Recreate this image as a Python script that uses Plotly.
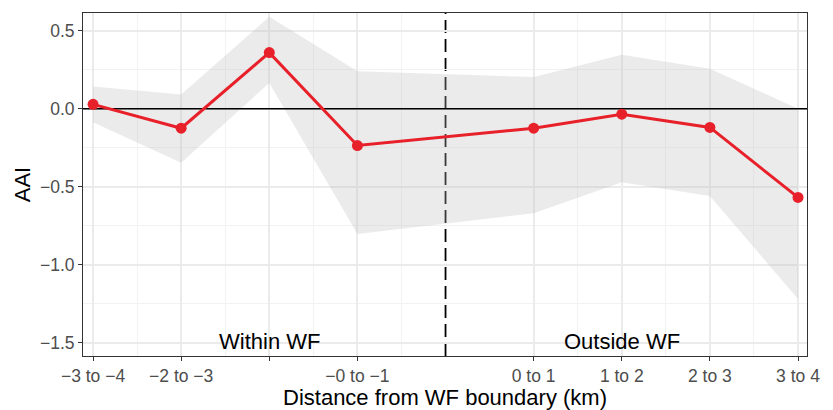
import plotly.graph_objects as go

# Data
x_pos = [-4, -3, -2, -1, 1, 2, 3, 4]
aai = [0.028, -0.125, 0.36, -0.236, -0.125, -0.035, -0.12, -0.569]
upper = [0.143, 0.092, 0.59, 0.24, 0.203, 0.347, 0.257, 0.0]
lower = [-0.086, -0.347, 0.165, -0.804, -0.67, -0.472, -0.56, -1.22]
tick_vals = [-4, -3, -2, -1, 1, 2, 3, 4]
tick_text = ["−3 to −4", "−2 to −3", "", "−0 to −1", "0 to 1", "1 to 2", "2 to 3", "3 to 4"]
minor_vals = [-3.5, -2.5, -1.5, -0.5, 1.5, 2.5, 3.5]
y_vals = [0.5, 0.0, -0.5, -1.0, -1.5]
y_text = ["0.5", "0.0", "−0.5", "−1.0", "−1.5"]
y_minor = [0.25, -0.25, -0.75, -1.25]
x_range = [-4.114, 4.102]
y_range = [-1.586, 0.614]

FONT = "Liberation Sans, Arial, sans-serif"

fig = go.Figure()
fig.add_trace(go.Scatter(x=x_pos, y=upper, mode="lines", line=dict(width=0),
                         hoverinfo="skip", showlegend=False))
fig.add_trace(go.Scatter(x=x_pos, y=lower, mode="lines", line=dict(width=0),
                         fill="tonexty", fillcolor="rgba(190,190,190,0.3)",
                         hoverinfo="skip", showlegend=False))
# reference line at AAI = 0 (drawn above ribbon, below series)
fig.add_trace(go.Scatter(x=x_range, y=[0, 0], mode="lines",
                         line=dict(color="black", width=1.6),
                         hoverinfo="skip", showlegend=False))
fig.add_shape(type="line", xref="x", yref="paper", x0=0, x1=0, y0=0, y1=1,
              line=dict(color="black", width=1.8, dash="13px,6px"), layer="between")
fig.add_trace(go.Scatter(x=x_pos, y=aai, mode="lines+markers",
                         line=dict(color="#E8202A", width=3),
                         marker=dict(color="#E8202A", size=11),
                         showlegend=False))

fig.add_annotation(x=-2, y=-1.5, text="Within WF", showarrow=False,
                   font=dict(family=FONT, size=22, color="black"), yanchor="middle", yshift=1)
fig.add_annotation(x=2, y=-1.5, text="Outside WF", showarrow=False,
                   font=dict(family=FONT, size=22, color="black"), yanchor="middle", yshift=1)

fig.update_layout(
    width=833, height=410,
    margin=dict(l=83, r=26, t=13, b=54),
    plot_bgcolor="white", paper_bgcolor="white",
    font=dict(family=FONT),
    xaxis=dict(
        range=x_range, tickmode="array", tickvals=tick_vals, ticktext=tick_text,
        tickfont=dict(size=17.5, color="#4D4D4D"), automargin=False,
        ticks="outside", ticklen=4, tickcolor="#333333", tickwidth=1,
        showgrid=True, gridcolor="#EBEBEB", gridwidth=2,
        minor=dict(tickmode="array", tickvals=minor_vals, showgrid=True,
                   gridcolor="#F2F2F2", gridwidth=1, ticks=""),
        showline=True, mirror=True, linecolor="#333333", linewidth=1,
        zeroline=False,
        title=dict(text="Distance from WF boundary (km)", font=dict(size=22, color="black"), standoff=9),
    ),
    yaxis=dict(
        range=y_range, tickmode="array", tickvals=y_vals, ticktext=y_text,
        tickfont=dict(size=17.5, color="#4D4D4D"), automargin=False,
        ticks="outside", ticklen=4, tickcolor="#333333", tickwidth=1,
        showgrid=True, gridcolor="#EBEBEB", gridwidth=2,
        minor=dict(tickmode="array", tickvals=y_minor, showgrid=True,
                   gridcolor="#F2F2F2", gridwidth=1, ticks=""),
        showline=True, mirror=True, linecolor="#333333", linewidth=1,
        zeroline=False,
        title=dict(text="AAI", font=dict(size=22, color="black"), standoff=3),
    ),
)

fig.write_html("out.html")
